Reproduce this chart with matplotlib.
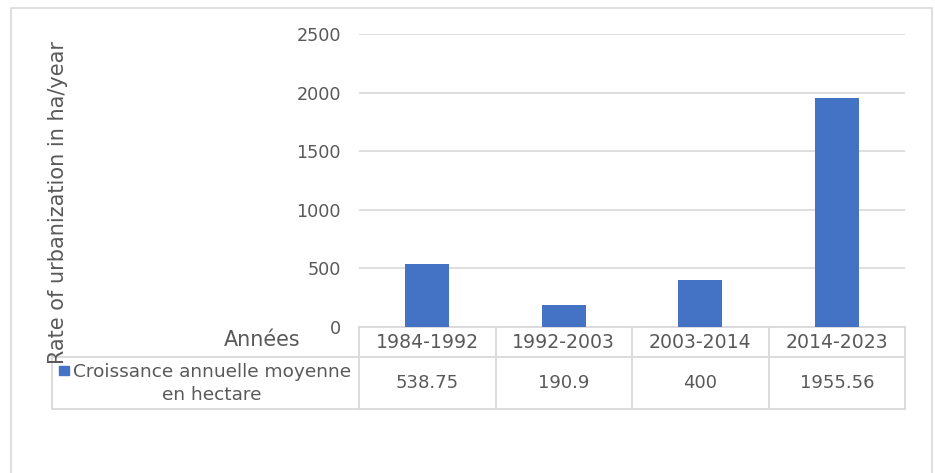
import matplotlib.pyplot as plt
from matplotlib.lines import Line2D
from matplotlib.patches import Rectangle
from matplotlib.transforms import blended_transform_factory

plt.rcParams['font.family'] = ['DejaVu Sans']

# data
periods = ['1984-1992', '1992-2003', '2003-2014', '2014-2023']
growth = [538.75, 190.9, 400, 1955.56]
value_labels = ['538.75', '190.9', '400', '1955.56']
series_name = 'Croissance annuelle moyenne\nen hectare'
y_ticks = [0, 500, 1000, 1500, 2000, 2500]

BAR_COLOR = '#4472C4'
GRID = '#d9d9d9'
TXT = '#595959'
FS = 12.7

W, H = 935, 473
fig = plt.figure(figsize=(W / 100, H / 100), dpi=100)

# outer chart border (bottom edge runs off the picture)
fig.patches.append(Rectangle((11 / W, -0.05), (932 - 11) / W, 1 - 8 / H + 0.05,
                             transform=fig.transFigure, fill=False,
                             edgecolor=GRID, linewidth=1.2))

# plot area in pixels
x0, x1, y_top, y_zero = 359, 905, 34, 327
ax = fig.add_axes([x0 / W, 1 - y_zero / H, (x1 - x0) / W, (y_zero - y_top) / H])

xs = list(range(len(periods)))
ax.bar(xs, growth, width=0.32, color=BAR_COLOR, zorder=3)
ax.set_xlim(-0.5, len(periods) - 0.5)
ax.set_ylim(0, 2500)
ax.set_yticks(y_ticks)
ax.set_yticklabels([str(t) for t in y_ticks], fontsize=FS, color=TXT)
ax.tick_params(axis='y', length=0, pad=13)
ax.set_xticks([])
ax.yaxis.grid(True, color=GRID, linewidth=1.2)
for s in ax.spines.values():
    s.set_visible(False)

# data table under the axis
tr = blended_transform_factory(ax.transData, ax.transAxes)
ah = y_zero - y_top
row1 = -(357 - y_zero) / ah
row2 = -(409 - y_zero) / ah
left = -0.5 - (x0 - 52) / (x1 - x0) * len(periods)

def tline(xd, yd):
    ax.add_line(Line2D(xd, yd, transform=tr, color=GRID, linewidth=1.3,
                       clip_on=False))

tline([-0.5, len(periods) - 0.5], [0, 0])
tline([left, len(periods) - 0.5], [row1, row1])
tline([left, len(periods) - 0.5], [row2, row2])
tline([left, left], [row1, row2])
for i in range(len(periods) + 1):
    tline([i - 0.5, i - 0.5], [0, row2])

for i, p in enumerate(periods):
    ax.text(i, row1 / 2, p, transform=tr, ha='center', va='center',
            fontsize=FS + 0.9, color=TXT)
    ax.text(i, (row1 + row2) / 2, value_labels[i], transform=tr,
            ha='center', va='center', fontsize=FS + 0.3, color=TXT)

fig.text(300 / W, 1 - 340 / H, 'Années', ha='right', va='center',
         fontsize=FS + 2.2, color=TXT)
fig.patches.append(Rectangle((59 / W, 1 - 375 / H), 10 / W, 9 / H,
                             transform=fig.transFigure, color=BAR_COLOR))
fig.text(212 / W, 1 - 383.5 / H, series_name, ha='center', va='center',
         multialignment='center', fontsize=FS + 0.6, color=TXT, linespacing=1.3)

fig.text(58 / W, 1 - 202 / H, 'Rate of urbanization in ha/year', rotation=90,
         ha='center', va='center', fontsize=FS + 2.3, color=TXT)

fig.savefig('out.png', dpi=100)
